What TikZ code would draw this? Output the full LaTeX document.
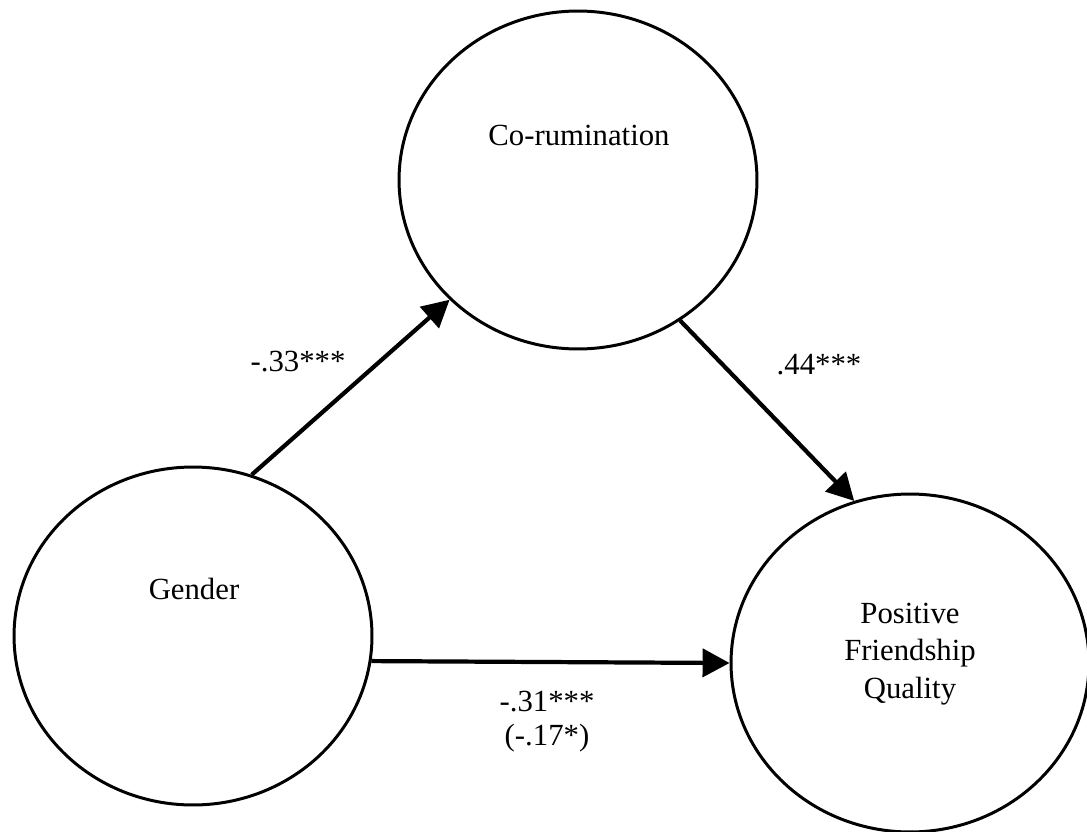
\documentclass[tikz,border=0pt]{standalone}
\usepackage{fontspec}
\setmainfont{Liberation Serif}
\usetikzlibrary{shapes.geometric,arrows.meta}

\begin{document}
\begin{tikzpicture}[x=0.02cm, y=-0.02cm,
    var/.style={draw, ellipse, line width=1.7pt, minimum width=7.16cm, minimum height=6.76cm, inner sep=0pt},
    effect/.style={line width=2.4pt, -{Triangle[length=5.4mm, width=5.6mm]}},
    txt/.style={font=\fontsize{17.5}{21.3}\selectfont, align=center, inner sep=0pt}]
    \useasboundingbox (0,0) rectangle (1087,831);
    \node[var] (corum) at (578,180) {}; \node[var] (gender) at (193,636) {}; \node[var] (pfq) at (910,663) {};
    \node[txt] (corumtxt) at (579,135) {Co-rumination};
    \node[txt] (gendertxt) at (194,589) {Gender};
    \node[txt] (pfqtxt) at (910,654) {Positive\\Friendship\\Quality};

    \draw[effect] (gender.70) -- (corum.223);
    \draw[effect] (corum.306) -- (pfq.109);
    \draw[effect] (gender.-8) -- (pfq.west);

    \node[txt] (a) at (298,362) {-.33***};
    \node[txt] (b) at (819,365) {.44***};
    \node[txt] (c) at (547,722) {-.31***\\[-2pt](-.17*)};
\end{tikzpicture}
\end{document}
